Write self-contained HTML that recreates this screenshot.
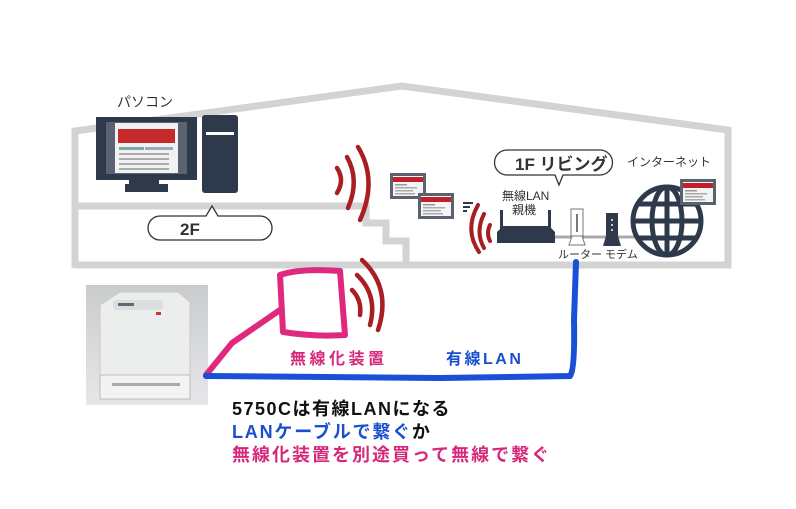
<!DOCTYPE html>
<html><head><meta charset="utf-8"><style>
html,body{margin:0;padding:0;background:#fff;}
body{width:796px;height:504px;overflow:hidden;position:relative;font-family:"Liberation Sans","Noto Sans CJK JP",sans-serif;}
svg text{font-family:"Liberation Sans","Noto Sans CJK JP",sans-serif;}
</style></head><body>
<svg width="796" height="504" viewBox="0 0 796 504" xmlns="http://www.w3.org/2000/svg">
<defs>
<linearGradient id="pg" x1="0" y1="0" x2="0" y2="1"><stop offset="0" stop-color="#c9cbcd"/><stop offset="1" stop-color="#e6e7e8"/></linearGradient>
<g id="scr"><rect x="0" y="0" width="36" height="26" fill="#5a6270"/><rect x="3" y="3" width="30" height="20" fill="#f4f4f4"/><rect x="3" y="4" width="30" height="5" fill="#c0202a"/><rect x="5" y="11" width="12" height="1.5" fill="#999"/><rect x="5" y="14" width="22" height="1.5" fill="#aaa"/><rect x="5" y="17" width="18" height="1.5" fill="#aaa"/><rect x="5" y="20" width="20" height="1.5" fill="#aaa"/></g>
</defs>
<g fill="none" stroke="#d3d3d3" stroke-width="7" stroke-linejoin="miter">
<polyline points="75,268 75,131 402,86 728,130 728,265 75,265"/>
<polyline points="75,206 366,206 366,223 386,223 386,241 406,241 406,265"/>
</g>
<text x="117" y="107" font-size="14" fill="#333">パソコン</text>
<rect x="96" y="117" width="101" height="63" fill="#2e3a4c"/>
<rect x="106" y="122" width="81" height="52" fill="#5b6373"/>
<rect x="115" y="123" width="63" height="50" fill="#f2f2f2"/>
<rect x="118" y="129" width="57" height="14" fill="#c62a2a"/>
<rect x="119" y="147" width="25" height="3" fill="#7aa"/><rect x="145" y="147" width="28" height="3" fill="#9ab"/>
<rect x="119" y="153" width="50" height="2" fill="#aaa"/><rect x="119" y="158" width="50" height="2" fill="#aaa"/><rect x="119" y="163" width="50" height="2" fill="#aaa"/><rect x="119" y="168" width="50" height="2" fill="#aaa"/>
<rect x="129" y="180" width="30" height="10" fill="#2e3a4c"/>
<rect x="125" y="184" width="43" height="8" fill="#2e3a4c"/>
<rect x="202" y="115" width="36" height="78" rx="3" fill="#2e3a4c"/>
<rect x="206" y="132" width="28" height="3" fill="#fff"/>
<path d="M160,216 H206 L212,206 L218,216 H260 A12,12 0 0 1 260,240 H160 A12,12 0 0 1 160,216 Z" fill="#fff" stroke="#333" stroke-width="1.3"/>
<text x="180" y="235" font-size="17" font-weight="bold" fill="#333">2F</text>
<g fill="none" stroke="#a81e22" stroke-width="4.5" stroke-linecap="round">
<path d="M337,168 Q345,180 337,193"/>
<path d="M347,157 Q360,180 348,208"/>
<path d="M358,147 Q378,180 360,220"/>
</g>
<use href="#scr" x="390" y="173"/>
<use href="#scr" x="418" y="193"/>
<g fill="#2e3a4c"><rect x="463" y="202" width="10" height="2"/><rect x="463" y="206" width="7" height="2"/><rect x="463" y="210" width="4" height="2"/></g>
<g fill="none" stroke="#a81e22" stroke-width="4" stroke-linecap="round">
<path d="M490,225 Q486,233 490,241"/>
<path d="M484,214 Q475,232 484,248"/>
<path d="M478,205 Q464,230 479,252"/>
</g>
<path d="M507,150 H600 A12.5,12.5 0 0 1 600,175 H563 L559,185 L555,175 H507 A12.5,12.5 0 0 1 507,150 Z" fill="#fff" stroke="#333" stroke-width="1.3"/>
<text x="515" y="170" font-size="17" font-weight="bold" fill="#333">1F リビング</text>
<text x="627" y="166" font-size="12" fill="#333">インターネット</text>
<text x="502" y="200" font-size="12" fill="#333">無線LAN</text>
<text x="512" y="214" font-size="12" fill="#333">親機</text>
<line x1="550" y1="237" x2="640" y2="237" stroke="#aaa" stroke-width="3"/>
<rect x="500" y="210" width="3" height="20" fill="#2e3a4c"/><rect x="548" y="210" width="3" height="20" fill="#2e3a4c"/>
<path d="M503,226 H549 L555,232 V243 H497 V232 Z" fill="#2e3a4c"/>
<rect x="571" y="209" width="12" height="32" fill="#fff" stroke="#777" stroke-width="1"/>
<rect x="576" y="214" width="2" height="18" fill="#777"/>
<path d="M569,245 L572,236 H582 L585,245 Z" fill="#fff" stroke="#777" stroke-width="1"/>
<rect x="606" y="213" width="12" height="28" fill="#2e3a4c"/>
<path d="M603,246 L606,236 H618 L621,246 Z" fill="#2e3a4c"/>
<g fill="#ccc"><rect x="611" y="219" width="2" height="2"/><rect x="611" y="224" width="2" height="2"/><rect x="611" y="229" width="2" height="2"/></g>
<text x="558" y="258" font-size="11" fill="#333">ルーター モデム</text>
<g fill="none" stroke="#2e3a4c" stroke-width="5">
<circle cx="667" cy="221" r="34"/>
<ellipse cx="667" cy="221" rx="15" ry="34"/>
<line x1="667" y1="187" x2="667" y2="255"/>
<line x1="633" y1="221" x2="701" y2="221"/>
<path d="M638,204 H696 M638,238 H696"/>
</g>
<use href="#scr" x="680" y="179"/>
<rect x="86" y="285" width="122" height="120" fill="url(#pg)"/>
<path d="M100,305 L120,292 H178 L190,302 V390 H100 Z" fill="#eceeee" stroke="#c8c8c8"/>
<rect x="113" y="300" width="50" height="10" rx="3" fill="#dcdedf"/>
<rect x="118" y="303" width="16" height="3" fill="#667"/>
<rect x="156" y="312" width="5" height="3" fill="#c33"/>
<rect x="100" y="375" width="90" height="24" fill="#f3f3f3" stroke="#bbb"/>
<rect x="112" y="383" width="68" height="3" fill="#aaa"/>
<g fill="none" stroke="#e0287e" stroke-width="6" stroke-linejoin="round" stroke-linecap="round">
<path d="M206,375 L232,343 L280,310"/>
<path d="M280,275 Q300,268 340,271 L345,335 Q315,337 283,332 Z"/>
</g>
<path d="M206,376 L440,378 L570,376 Q575,370 574,320 L576,262" fill="none" stroke="#1a4fd8" stroke-width="6" stroke-linecap="round"/>
<g fill="none" stroke="#a81e22" stroke-width="4.5" stroke-linecap="round">
<path d="M352,290 Q362,300 360,315"/>
<path d="M357,275 Q378,295 370,325"/>
<path d="M362,260 Q392,288 378,330"/>
</g>
<text x="290" y="364" font-size="16" font-weight="bold" fill="#d6287a" letter-spacing="3.5">無線化装置</text>
<text x="446" y="364" font-size="16" font-weight="bold" fill="#1a4fd0" letter-spacing="2.5">有線LAN</text>
<text x="232" y="415" font-size="18" font-weight="bold" fill="#111" letter-spacing="1.5">5750Cは有線LANになる</text>
<text x="232" y="438" font-size="18" font-weight="bold" fill="#1a4fd0" letter-spacing="1.8">LANケーブルで繋ぐ<tspan fill="#111">か</tspan></text>
<text x="232" y="461" font-size="18" font-weight="bold" fill="#d6287a" letter-spacing="2">無線化装置を別途買って無線で繋ぐ</text>
</svg>
</body></html>
